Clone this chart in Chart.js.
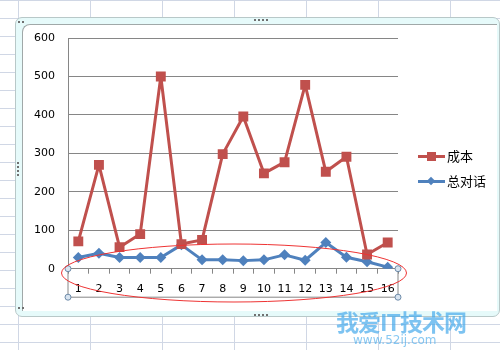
<!DOCTYPE html>
<html>
<head>
<meta charset="utf-8">
<script src="https://cdn.jsdelivr.net/npm/chart.js@4/dist/chart.umd.min.js"></script>
<style>
  html, body { margin: 0; padding: 0; }
  body {
    width: 500px; height: 350px; position: relative; overflow: hidden;
    background-color: #fff;
    background-image:
      linear-gradient(to right, #d0d7e5 1px, transparent 1px),
      linear-gradient(to bottom, #d0d7e5 1px, transparent 1px);
    background-size: 72px 18px;
    background-position: 18px 0;
  }
  .frame {
    position: absolute; left: 15px; top: 17px; width: 485px; height: 300px;
    box-sizing: border-box; background: #e6fafa;
    border: 1px solid #b8c8c8; border-radius: 7px;
  }
  .inner {
    position: absolute; left: 22px; top: 24px; width: 475px; height: 287px;
    box-sizing: border-box; background: #fff;
    border-top: 1px solid #a0a8a8; border-left: 1px solid #a0a8a8;
    border-radius: 8px 0 0 0;
  }
  .dots { position: absolute; width: 14px; height: 2px;
    background-image: linear-gradient(to right, #707070 2px, transparent 2px);
    background-size: 4px 2px; }
  .vdots { position: absolute; width: 2px; height: 14px;
    background-image: linear-gradient(to bottom, #707070 2px, transparent 2px);
    background-size: 2px 4px; }
  canvas { position: absolute; left: 0; top: 0; }
  svg { position: absolute; left: 0; top: 0; }
  .legend { position: absolute; left: 418px; font: 13px "Noto Sans CJK SC", sans-serif; color: #000; }
  .legend .row { position: absolute; left: 0; height: 20px; white-space: nowrap; }
  .legend .line { position: absolute; left: 0; top: 9px; width: 27px; height: 3px; }
  .legend .mark { position: absolute; }
  .legend .txt { position: absolute; left: 29px; top: 0; line-height: 20px; }
  .wm1 { position: absolute; left: 336px; top: 304px; font: bold 23px "Noto Sans CJK SC", sans-serif;
    color: rgba(70, 170, 235, 0.7); letter-spacing: -1px; }
  .wm2 { position: absolute; left: 353px; top: 333px; font: 12px "DejaVu Sans", sans-serif;
    color: rgba(70, 170, 235, 0.65); }
</style>
</head>
<body>
<div class="frame"></div>
<div class="inner"></div>
<div class="dots" style="left:254px;top:19px"></div>
<div class="dots" style="left:254px;top:314px"></div>
<div class="vdots" style="left:17px;top:162px"></div>
<div class="dots" style="left:18px;top:21px;width:6px"></div>
<div class="dots" style="left:18px;top:307px;width:6px"></div>
<canvas id="chart" width="500" height="350"></canvas>
<svg width="500" height="350">
  <ellipse cx="234" cy="273" rx="172.5" ry="29" fill="none" stroke="#ee3333" stroke-width="1"/>
</svg>
<div class="legend" id="legend"></div>
<div class="wm1">我爱IT技术网</div>
<div class="wm2">www.52ij.com</div>
<script>
const categories = ['1', '2', '3', '4', '5', '6', '7', '8', '9', '10', '11', '12', '13', '14', '15', '16'];
const seriesNames = ['成本', '总对话'];
const costValues = [71, 270, 56, 90, 500, 64, 75, 298, 396, 248, 277, 478, 252, 291, 37, 68];
const talkValues = [29, 40, 29, 29, 29, 62, 23, 23, 21, 23, 36, 22, 68, 30, 18, 4];
const yMin = 0, yMax = 600, yStep = 100;

const red = '#C0504D';
const blue = '#4F81BD';
const axisGrey = '#868686';

// selection box under the category axis, like the selected axis in the screenshot
const axisSelection = {
  id: 'axisSelection',
  afterDraw(chart) {
    const { ctx, chartArea } = chart;
    const l = chartArea.left, r = chartArea.right, t = chartArea.bottom, b = chartArea.bottom + 28.5;
    ctx.save();
    ctx.strokeStyle = axisGrey;
    ctx.lineWidth = 1;
    ctx.beginPath();
    ctx.moveTo(l, t); ctx.lineTo(l, b); ctx.lineTo(r, b); ctx.lineTo(r, t);
    ctx.stroke();
    [[l, t], [r, t], [l, b], [r, b]].forEach(([x, y]) => {
      ctx.beginPath();
      ctx.arc(x, y, 3, 0, Math.PI * 2);
      ctx.fillStyle = '#d8e4f0';
      ctx.fill();
      ctx.strokeStyle = '#6d8aa8';
      ctx.stroke();
    });
    ctx.restore();
  }
};

const chart = new Chart(document.getElementById('chart'), {
  type: 'line',
  data: {
    labels: categories,
    datasets: [
      {
        label: seriesNames[0], data: costValues,
        borderColor: red, backgroundColor: red, borderWidth: 3,
        borderJoinStyle: 'round', borderCapStyle: 'round',
        pointStyle: 'rect', pointRadius: 7, pointBorderWidth: 0,
        tension: 0
      },
      {
        label: seriesNames[1], data: talkValues,
        borderColor: blue, backgroundColor: blue, borderWidth: 3,
        borderJoinStyle: 'round', borderCapStyle: 'round',
        pointStyle: 'rectRot', pointRadius: 5.5, pointBorderWidth: 0,
        tension: 0
      }
    ]
  },
  options: {
    responsive: false,
    animation: false,
    layout: { padding: { top: 38, right: 102, left: 0, bottom: 0 } },
    plugins: { legend: { display: false }, tooltip: { enabled: false } },
    scales: {
      x: {
        offset: true,
        grid: { offset: true, drawOnChartArea: false, drawTicks: true, tickLength: 5, color: axisGrey },
        border: { color: axisGrey },
        ticks: { color: '#000', padding: 9, maxRotation: 0, autoSkip: false, font: { family: 'DejaVu Sans', size: 11 } },
        afterFit(s) { s.height = 350 - 268.7; }
      },
      y: {
        min: yMin, max: yMax,
        ticks: { stepSize: yStep, color: '#000', padding: 13, font: { family: 'DejaVu Sans', size: 11 } },
        grid: { color: axisGrey, drawTicks: false },
        border: { color: axisGrey },
        afterFit(s) { s.width = 68; }
      }
    }
  },
  plugins: [axisSelection]
});

// legend: line with marker, built from the datasets
const legend = document.getElementById('legend');
chart.data.datasets.forEach((ds, i) => {
  const row = document.createElement('div');
  row.className = 'row';
  row.style.top = (145.5 + i * 25) + 'px';
  const line = document.createElement('div');
  line.className = 'line';
  line.style.background = ds.borderColor;
  const mark = document.createElement('div');
  mark.className = 'mark';
  mark.style.background = ds.borderColor;
  if (ds.pointStyle === 'rect') {
    mark.style.cssText += 'left:9px;top:6px;width:9px;height:9px;';
  } else {
    mark.style.cssText += 'left:10px;top:7px;width:6px;height:6px;transform:rotate(45deg);';
  }
  const txt = document.createElement('span');
  txt.className = 'txt';
  txt.textContent = ds.label;
  row.appendChild(line); row.appendChild(mark); row.appendChild(txt);
  legend.appendChild(row);
});
</script>
</body>
</html>
